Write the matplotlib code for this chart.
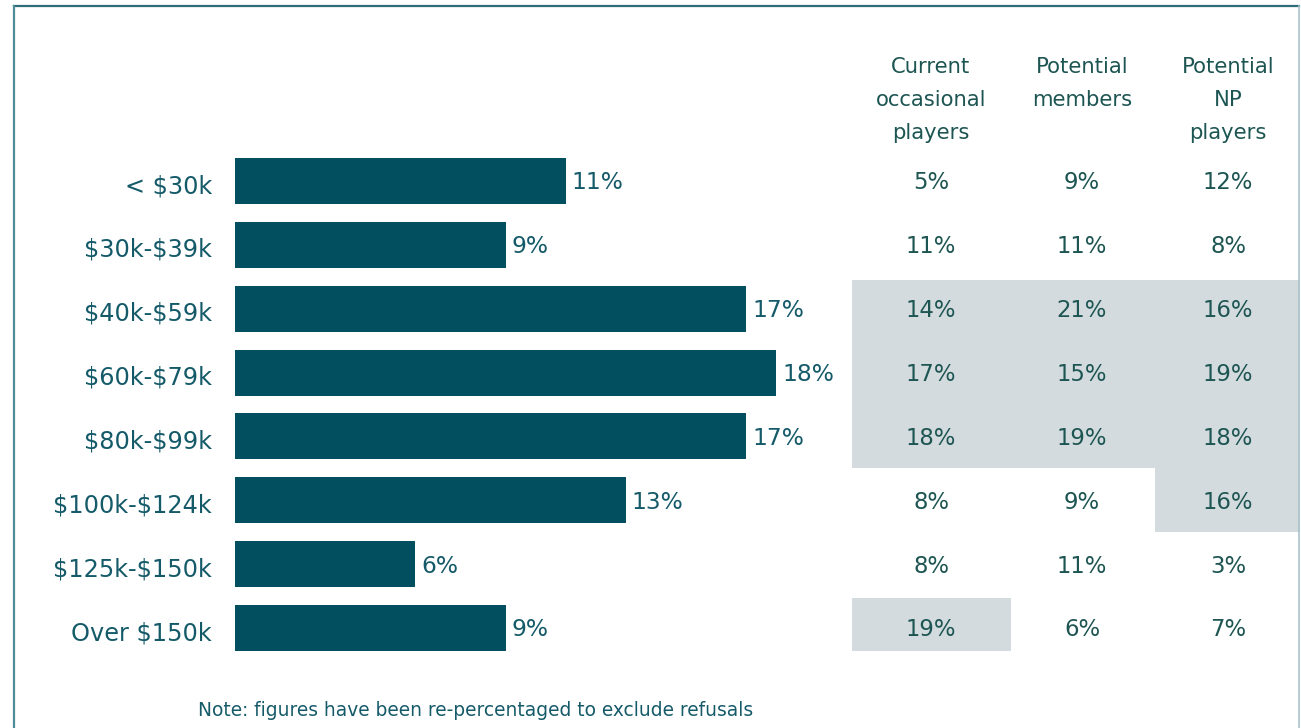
import matplotlib.pyplot as plt
from matplotlib.patches import Rectangle
from matplotlib.lines import Line2D

plt.rcParams['font.family'] = ['DejaVu Sans']
plt.rcParams['text.parse_math'] = False

# Household income bands and overall share
income_bands = ["< $30k", "$30k-$39k", "$40k-$59k", "$60k-$79k",
                "$80k-$99k", "$100k-$124k", "$125k-$150k", "Over $150k"]
overall_pct = [11, 9, 17, 18, 17, 13, 6, 9]

# Segment breakdown table
segment_headers = ["Current\noccasional\nplayers", "Potential\nmembers", "Potential\nNP\nplayers"]
current_occasional = [5, 11, 14, 17, 18, 8, 8, 19]
potential_members = [9, 11, 21, 15, 19, 9, 11, 6]
potential_np = [12, 8, 16, 19, 18, 16, 3, 7]

# Highlighted cells: (row, column)
highlight_cells = [(2, 0), (3, 0), (4, 0), (2, 1), (3, 1), (4, 1),
                   (2, 2), (3, 2), (4, 2), (5, 2), (7, 0)]

W, H = 1301, 728
BAR_COLOR = "#02505f"
LABEL_COLOR = "#155a69"
TABLE_COLOR = "#1d5552"
SHADE_COLOR = "#d4dbdf"

fig = plt.figure(figsize=(W / 100, H / 100), dpi=100)
fig.patch.set_facecolor("white")

# Frame lines
fig.add_artist(Line2D([14 / W, 1299 / W], [1 - 6 / H, 1 - 6 / H], color="#2e6c7a", lw=1.6))
fig.add_artist(Line2D([14 / W, 14 / W], [0, 1 - 6 / H], color="#4f8c98", lw=1.6))
fig.add_artist(Line2D([1299 / W, 1299 / W], [0, 1 - 6 / H], color="#a9c3c9", lw=1.2))

n = len(income_bands)
row_step = 63.86
top_px = 181 - row_step / 2
bottom_px = 628 + row_step / 2

def axes_rect(x0, x1):
    return [x0 / W, 1 - bottom_px / H, (x1 - x0) / W, (bottom_px - top_px) / H]

# Bar chart
ax = fig.add_axes(axes_rect(235, 235 + 601.2))
rows = list(range(n))
ax.barh(rows, overall_pct, height=0.72, color=BAR_COLOR)
ax.set_xlim(0, 20)
ax.set_ylim(n - 0.5, -0.5)
for r, v in zip(rows, overall_pct):
    ax.text(v + 0.2, r + 0.03, f"{v}%", va="center", ha="left", fontsize=16.8, color=LABEL_COLOR)
ax.set_yticks([r + 0.04 for r in rows])
ax.set_yticklabels(income_bands, fontsize=17.3, color=LABEL_COLOR)
ax.tick_params(axis="y", length=0, pad=16.5)
ax.set_xticks([])
for s in ax.spines.values():
    s.set_visible(False)
ax.patch.set_alpha(0)

# Segment table
col_edges_px = [852, 1011, 1155, 1300]
tx = fig.add_axes(axes_rect(col_edges_px[0], col_edges_px[-1]))
tx.set_xlim(col_edges_px[0], col_edges_px[-1])
tx.set_ylim(n - 0.5, -0.5)
tx.axis("off")

def cell_bounds(r):
    y0 = r - 0.5
    y1 = r + 0.5
    if r == 2:
        y0 = 2 - 0.5 + 0.05
    if r == 7:
        y0 = 7 - 0.5 + 0.03
        y1 = 7 + 0.36
    return y0, y1

for r, c in highlight_cells:
    y0, y1 = cell_bounds(r)
    x0, x1 = col_edges_px[c], col_edges_px[c + 1]
    tx.add_patch(Rectangle((x0, y0), x1 - x0, y1 - y0, facecolor=SHADE_COLOR,
                           edgecolor="none", zorder=0))

col_centers = [931, 1082, 1228]
columns = [current_occasional, potential_members, potential_np]
for cx, values in zip(col_centers, columns):
    for r, v in enumerate(values):
        tx.text(cx, r + 0.03, f"{v}%", ha="center", va="center", fontsize=16.4, color=TABLE_COLOR)

# Column headers
for cx, head in zip(col_centers, segment_headers):
    lines = head.split("\n")
    for i, line in enumerate(lines):
        fig.text(cx / W, 1 - (67 + 33 * i) / H, line, ha="center", va="center",
                 fontsize=15.2, color=TABLE_COLOR)

fig.text(198 / W, 1 - 711 / H, "Note: figures have been re-percentaged to exclude refusals",
         ha="left", va="center", fontsize=13.4, color=LABEL_COLOR)

fig.savefig("out.png", dpi=100, facecolor="white")
